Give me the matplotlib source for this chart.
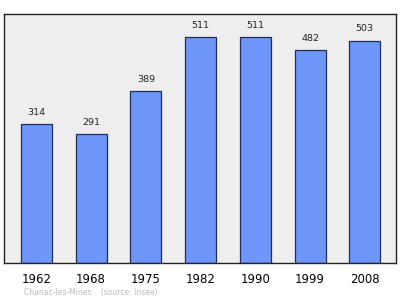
import matplotlib
matplotlib.use("Agg")
import matplotlib.pyplot as plt

# Population data
years = ["1962", "1968", "1975", "1982", "1990", "1999", "2008"]
population = [314, 291, 389, 511, 511, 482, 503]
source_note = "Chanac-les-Mines    (source: Insee)"

fig = plt.figure(figsize=(4.0, 2.99), dpi=100)
ax = fig.add_axes([4 / 400, 1 - 263 / 299, 392 / 400, 249 / 299])
ax.set_facecolor("#eeeeee")

x = range(len(years))
ax.bar(x, population, width=0.566, color="#6f96fb", edgecolor="#1f2d5a", linewidth=0.9, zorder=2)

for xi, v in zip(x, population):
    ax.text(xi, v + 16, str(v), ha="center", va="bottom", fontsize=6.8, color="#222222")

ax.set_xlim(-0.59, 6.57)
ax.set_ylim(0, 563)
ax.set_yticks([])
ax.set_xticks(list(x))
ax.set_xticklabels(years, fontsize=8.5)
ax.tick_params(axis="x", length=0, pad=7)
for s in ax.spines.values():
    s.set_linewidth(1.0)
    s.set_color("#222222")

fig.text(24 / 400, 1 - 292 / 299, source_note, fontsize=5.5, color="#bbbbbb", va="center", ha="left")

fig.savefig("out.png", dpi=100)
